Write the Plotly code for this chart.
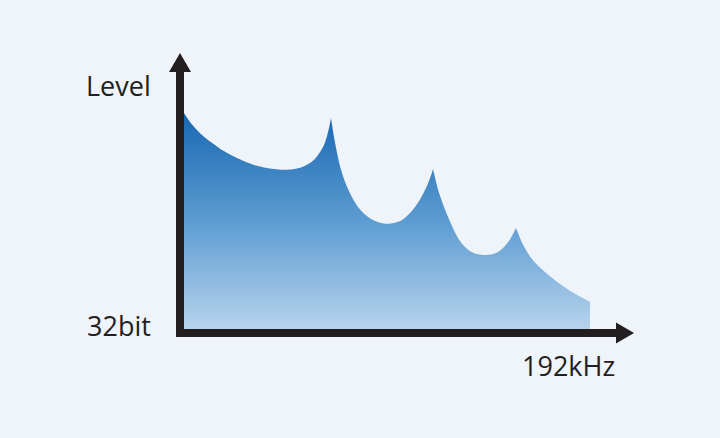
import plotly.graph_objects as go

# Spectrum outline, one scallop per list pair (frequency position, level)
seg1_freq = [4, 10, 16, 22, 28, 35, 42, 50, 58, 66, 74, 82, 90, 98, 106, 113, 119,
             124, 128, 132, 135, 138, 141, 143.5, 145.5, 147.3, 148.8, 150, 151]
seg1_level = [220, 211, 204, 198, 193, 188, 183, 178.5, 174.5, 171, 168, 166, 164.5,
              163.5, 163.3, 163.8, 165, 166.8, 168.8, 171.5, 174.3, 178, 182.5, 187,
              192, 198, 204, 209.5, 215]

seg2_freq = [151, 153, 155, 157.5, 160, 164, 168, 173, 178, 185, 192, 200, 207,
             214, 222, 229, 235, 240, 245, 248, 250, 252, 253]
seg2_level = [215, 202, 190.5, 178, 167, 154, 144, 134, 126, 118.5, 113.5, 110.3, 109.3,
              110, 113, 119, 126, 133.5, 143, 149.5, 155, 160.5, 164]

seg3_freq = [253, 255.5, 258, 261.5, 265, 270, 275, 280, 285, 290, 295, 301, 307,
             312, 318, 323, 327, 330, 333, 336]
seg3_level = [164, 153.5, 143.5, 133, 123.5, 111.5, 100.5, 92, 86, 82, 79.5, 78.2, 78,
              78.7, 81, 85, 89.5, 93.5, 99, 105]

seg4_freq = [336, 339, 342, 346, 350, 355, 360, 365, 371, 378, 385, 392, 400, 410]
seg4_level = [105, 97.5, 90.5, 83, 76.5, 70.5, 65.5, 61, 56, 50.5, 45.5, 41, 36.5, 31]

y_label_top = "Level"
y_label_bottom = "32bit"
x_label = "192kHz"

BG = "#eff3fa"
INK = "#231f20"
FONT = "Open Sans"

fig = go.Figure()
for fx, fy in [(seg1_freq, seg1_level), (seg2_freq, seg2_level),
               (seg3_freq, seg3_level), (seg4_freq, seg4_level)]:
    fig.add_trace(go.Scatter(
        x=fx, y=fy, mode="lines", line=dict(width=0, shape="spline", smoothing=0.8),
        fill="tozeroy",
        fillgradient=dict(type="vertical", start=0, stop=220,
                          colorscale=[[0, "#bad5ee"], [0.5, "#5e9dd2"], [1, "#1868b2"]]),
        hoverinfo="skip", showlegend=False,
    ))

shapes = [
    dict(type="line", xref="x", yref="y", x0=0, x1=0, y0=-4, y1=263,
         line=dict(color=INK, width=8)),
    dict(type="path", xref="x", yref="y", path="M -11,261 L 11,261 L 0,280 Z",
         fillcolor=INK, line=dict(width=0)),
    dict(type="line", xref="x", yref="y", x0=-4, x1=438, y0=0, y1=0,
         line=dict(color=INK, width=8)),
    dict(type="path", xref="x", yref="y", path="M 436,10.5 L 436,-10.5 L 454,0 Z",
         fillcolor=INK, line=dict(width=0)),
]

annotations = [
    dict(text=y_label_top, x=-27, y=247.5, xref="x", yref="y", xanchor="right",
         yanchor="middle", showarrow=False, font=dict(family=FONT, size=27, color=INK)),
    dict(text=y_label_bottom, x=-27, y=8, xref="x", yref="y", xanchor="right",
         yanchor="middle", showarrow=False, font=dict(family=FONT, size=27, color=INK)),
    dict(text=x_label, x=437, y=-32, xref="x", yref="y", xanchor="right",
         yanchor="middle", showarrow=False, font=dict(family=FONT, size=27, color=INK)),
]

fig.update_layout(
    width=720, height=438,
    margin=dict(l=0, r=0, t=0, b=0),
    paper_bgcolor=BG, plot_bgcolor=BG,
    xaxis=dict(range=[-180, 540], visible=False, fixedrange=True),
    yaxis=dict(range=[-105, 333], visible=False, fixedrange=True),
    shapes=shapes, annotations=annotations,
    showlegend=False,
)

fig.write_html("out.html", config={"displayModeBar": False, "staticPlot": True},
               post_script="document.body.style.margin='0';document.body.style.background='#eff3fa';")
